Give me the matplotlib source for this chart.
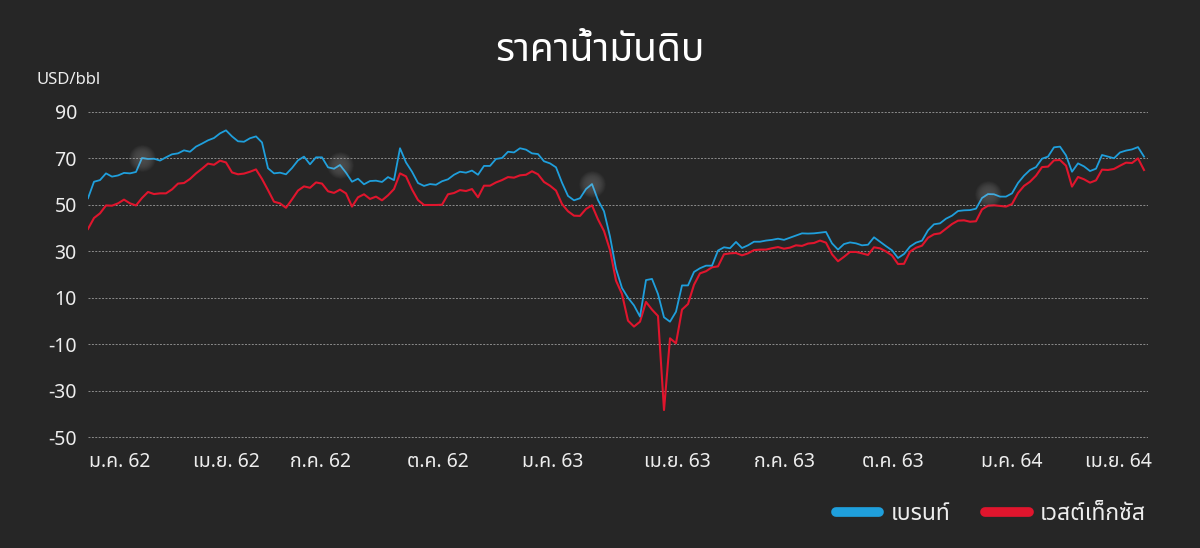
import numpy as np
import matplotlib
matplotlib.use("Agg")
import matplotlib.pyplot as plt
import matplotlib.font_manager as fm
from matplotlib.ft2font import FT2Font
from matplotlib.lines import Line2D

# ---------------- data ----------------
title = "ราคาน้ำมันดิบ"
unit_label = "USD/bbl"
series_names = ["เบรนท์", "เวสต์เท็กซัส"]
month_labels = ["ม.ค. 62", "เม.ย. 62", "ก.ค. 62", "ต.ค. 62", "ม.ค. 63",
                "เม.ย. 63", "ก.ค. 63", "ต.ค. 63", "ม.ค. 64", "เม.ย. 64"]
y_ticks = [90, 70, 50, 30, 10, -10, -30, -50]

brent = [
    52.8, 59.9, 60.6, 63.5, 62.1, 62.6, 63.7, 63.5, 64.1, 70.1, 69.7, 69.8, 69.0, 70.4, 71.7, 72.1,
    73.4, 72.8, 75.0, 76.3, 77.7, 78.7, 80.7, 82.0, 79.4, 77.3, 77.1, 78.6, 79.4, 76.8, 65.7, 63.5,
    63.8, 63.1, 65.8, 69.1, 70.7, 67.4, 70.4, 70.4, 66.1, 65.5, 67.1, 63.8,
    59.9, 61.2, 58.8, 60.2, 60.35, 59.8, 61.9, 60.6, 74.3, 68.2, 64.2, 59.35, 58.1, 58.9, 58.6, 60.1,
    60.95, 62.9, 64.2, 63.8, 64.7, 62.9, 66.7, 66.7, 69.7, 70.1, 72.8, 72.5, 74.3, 73.7, 72.1, 71.8,
    68.7, 67.8, 66.1, 59.5, 53.8, 51.9, 52.8, 56.75, 58.9, 52.0, 47.2,
    36.3, 22.5, 14.2, 10.0, 6.7, 1.9, 17.6, 18.1, 11.6, 1.6, -0.3, 4.0, 15.3, 15.3, 21.1, 22.7,
    23.8, 23.8, 30.3, 31.7, 31.3, 34.0, 31.4, 32.55, 34.1, 34.1, 34.6, 34.9, 35.4, 34.9, 35.85, 36.85,
    37.7, 37.6, 37.7, 38.0, 38.3, 33.4, 30.7, 33.1, 33.8, 33.4, 32.55,
    32.8, 36.0, 34.1, 32.2, 30.4, 27.1, 28.8, 32.0, 33.7, 34.55, 39.0, 41.6, 42.0, 44.0, 45.3, 47.3,
    47.6, 47.7, 48.3, 52.9, 54.6, 54.5, 53.5, 53.5, 54.9, 59.35, 62.5, 64.95, 66.2, 69.8, 70.7, 74.7,
    75.0, 71.25, 64.2, 67.8, 66.5, 64.5, 65.5, 71.4, 70.7, 70.0, 72.5, 73.3, 73.8, 74.8, 70.7,
]

wti = [
    39.6, 44.3, 46.3, 49.7, 49.6, 50.6, 52.2, 50.6, 49.7, 52.9, 55.5, 54.6, 54.9, 54.9, 56.6, 59.1,
    59.35, 61.1, 63.5, 65.5, 67.7, 67.2, 68.96, 68.2, 63.9, 63.1, 63.4, 64.2, 65.2, 61.1, 56.3, 51.3,
    50.6, 48.7, 52.3, 56.1, 57.9, 57.3, 59.6, 59.1, 55.8, 55.1, 56.5, 54.9,
    49.2, 53.2, 54.5, 52.5, 53.5, 51.9, 54.05, 56.75, 63.5, 62.2, 56.6, 52.0, 49.9, 49.9, 49.9, 50.0,
    54.5, 55.05, 56.3, 55.9, 56.75, 53.2, 58.2, 58.2, 59.6, 60.6, 61.9, 61.65, 62.65, 62.9, 64.4, 63.1,
    59.8, 58.2, 56.1, 50.3, 47.2, 45.3, 45.2, 48.2, 49.75, 43.7, 38.7,
    30.5, 17.35, 11.6, 0.15, -2.4, -0.3, 8.2, 4.9, 2.15, -38.3, -7.45, -9.6, 4.9, 7.3, 15.6, 20.5,
    21.4, 23.1, 23.5, 28.7, 29.1, 29.25, 28.25, 29.1, 30.5, 30.7, 30.7, 31.3, 31.8, 31.1, 31.55, 32.55,
    32.3, 33.3, 33.55, 34.6, 33.7, 28.7, 25.7, 27.6, 29.7, 29.7, 29.1,
    28.4, 31.7, 31.25, 29.9, 28.2, 24.5, 24.6, 29.8, 31.5, 32.4, 35.8, 37.3, 37.7, 39.7, 41.7, 43.15,
    43.3, 42.7, 42.9, 48.0, 49.6, 49.75, 49.5, 49.2, 50.3, 55.05, 58.1, 59.9, 62.5, 66.2, 66.4, 69.1,
    69.25, 66.8, 57.8, 61.95, 60.95, 59.5, 60.5, 65.1, 64.95, 65.4, 66.8, 68.1, 67.95, 69.95, 64.95,
]

# ---------------- fonts ----------------
pref = ['Noto Sans Thai', 'Noto Sans Thai UI', 'Kanit', 'Prompt', 'Sarabun', 'Loma',
        'Garuda', 'Waree', 'Umpush', 'Tlwg Typo', 'Laksaman', 'Noto Serif Thai']
cands = []
for f in fm.fontManager.ttflist:
    try:
        if 0x0E23 in FT2Font(f.fname).get_charmap():
            if f.name not in cands:
                cands.append(f.name)
    except Exception:
        pass
thai = None
for p in pref:
    if p in cands:
        thai = p
        break
if thai is None and cands:
    thai = cands[0]
fams = ['Noto Sans'] + ([thai] if thai else []) + ['DejaVu Sans']
plt.rcParams['font.family'] = fams

BG = '#262626'
TXT = '#ededed'
BLUE = '#1f9fdc'
RED = '#e0152d'

W, H = 1200, 548
fig = plt.figure(figsize=(W / 100, H / 100), dpi=100, facecolor=BG)

x = np.arange(len(brent))
ymin, ymax = -52, 92
top_px, bot_px = 107.1, 441.9
left_px, right_px = 88, 1148
ax = fig.add_axes([left_px / W, 1 - bot_px / H, (right_px - left_px) / W, (bot_px - top_px) / H])
ax.set_facecolor(BG)
ax.set_xlim(0, (right_px - left_px) / 6)
ax.set_ylim(ymin, ymax)

for s in ax.spines.values():
    s.set_visible(False)

ax.set_yticks(y_ticks)
ax.set_yticklabels([str(v) for v in y_ticks])
ax.yaxis.grid(True, color='#8c8c8c', linestyle=(0, (2, 1.5)), linewidth=0.7)
ax.set_axisbelow(True)

tick_pos = [5.2, 23, 38.8, 58.3, 77.5, 98.3, 116, 134.2, 154, 171.8]
ax.set_xticks(tick_pos)
ax.set_xticklabels(month_labels)
ax.tick_params(axis='both', length=0, colors=TXT, labelsize=14)
ax.tick_params(axis='y', pad=8)
ax.tick_params(axis='x', pad=7)

# soft glows on the Brent line
glow_idx = [9, 42, 84, 150]
sizes = np.linspace(15, 380, 14)
for gi in glow_idx:
    for sz in sizes:
        ax.scatter([x[gi]], [brent[gi]], s=sz, color='white', alpha=0.016,
                   linewidths=0, zorder=4)

ax.plot(x, wti, color=RED, lw=1.5, zorder=2)
ax.plot(x, brent, color=BLUE, lw=1.3, zorder=3)

fig.text(0.5, 1 - 51 / H, title, ha='center', va='center', color='white', fontsize=28,
         fontweight='medium')
fig.text(37 / W, 1 - 80 / H, unit_label, ha='left', va='center', color=TXT, fontsize=12)

handles = [Line2D([], [], color=BLUE, lw=7, solid_capstyle='round'),
           Line2D([], [], color=RED, lw=7, solid_capstyle='round')]
leg = fig.legend(handles, series_names, loc='center right', bbox_to_anchor=(1146 / W, 1 - 514 / H),
                 ncol=2, frameon=False, fontsize=16.5, handlelength=1.9, handletextpad=0.5,
                 columnspacing=1.5, labelcolor=TXT, borderpad=0, borderaxespad=0)

fig.savefig('out.png', dpi=100, facecolor=BG)
